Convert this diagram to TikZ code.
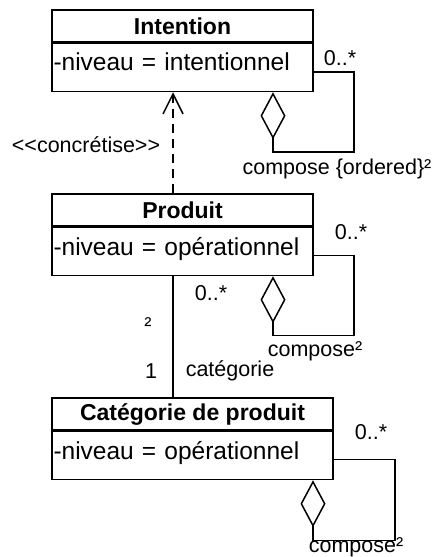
\documentclass[tikz,border=0pt]{standalone}
\usepackage{fontspec}
\setmainfont{Liberation Sans}
\usetikzlibrary{arrows.meta, positioning}

\begin{document}
\begin{tikzpicture}[x=1pt, y=1pt,
  line width=1.5pt,
  cname/.style={draw, minimum width=#1, minimum height=32pt, inner sep=0pt,
    font=\fontsize{23}{27}\selectfont\bfseries},
  cattr/.style={draw, text width=#1, minimum height=48pt, inner xsep=1.5pt,
    inner ysep=0pt, text depth=11pt, align=left, font=\fontsize{24.5}{29}\selectfont},
  lbl/.style={inner sep=0pt, font=\fontsize{21.5}{25}\selectfont},
  agg/.style={-{Diamond[open, length=47pt, width=25pt]}},
  real/.style={dash pattern=on 9pt off 6pt,
    -{Straight Barb[length=20pt, width=20pt]}}]
\useasboundingbox (0,0) rectangle (433,-557);
% classes
\node[cname=261pt] (int) at (182.5,-26) {Intention};
\node[cattr=258pt, below=0pt of int] (inta) {-niveau = intentionnel};
\node[cname=261pt, below=101pt of inta] (prod) {Produit};
\node[cattr=258pt, below=0pt of prod] (proda) {-niveau = opérationnel};
\node[cname=281pt, below=121pt of proda.south west, anchor=north west] (cat) {Catégorie de produit};
\node[cattr=278pt, below=0pt of cat] (cata) {-niveau = opérationnel};
% links
\draw[real] ([xshift=-9.5pt]prod.north) -- ([xshift=-9.5pt]inta.south);
\draw ([xshift=-9.5pt]proda.south) -- ([xshift=-19.5pt]cat.north);
\draw[agg] ([yshift=-4.5pt]inta.east) -- ++(40,0) -- ++(0,-80) -| ([xshift=90.5pt]inta.south);
\draw[agg] ([yshift=-4pt]proda.east) -- ++(40,0) -- ++(0,-80) -| ([xshift=90.5pt]proda.south);
\draw[agg] ([yshift=-4pt]cata.east) -- ++(61,0) -- ++(0,-81) -| ([xshift=120.5pt]cata.south);
% labels
\node[lbl] (ste) at (86,-145) {<{}<concrétise>{}>};
\node[lbl] (mi) at (340,-58) {0..*};
\node[lbl] (ci) at (337,-169) {compose \{ordered\}²};
\node[lbl] (mp) at (351,-232) {0..*};
\node[lbl] (cp) at (315,-351) {compose²};
\node[lbl] (mc) at (211,-293) {0..*};
\node[lbl] (sq) at (148,-325) {²};
\node[lbl] (one) at (151,-371) {1};
\node[lbl] (rc) at (230,-371) {catégorie};
\node[lbl] (mk) at (371,-432) {0..*};
\node[lbl] (ck) at (356,-547) {compose²};
\end{tikzpicture}
\end{document}
